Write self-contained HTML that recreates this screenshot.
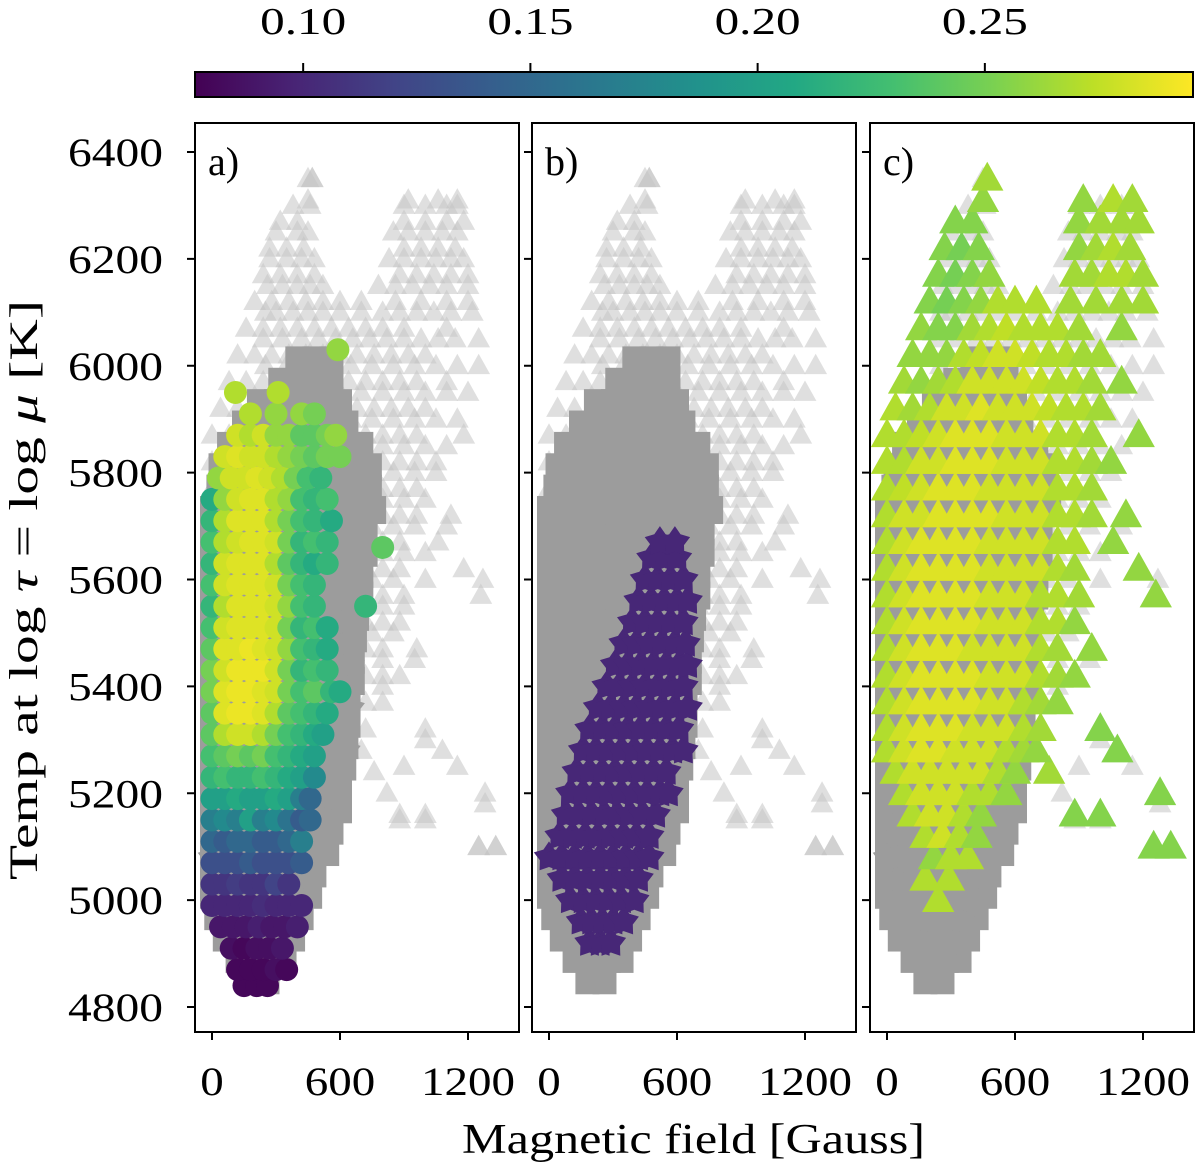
<!DOCTYPE html>
<html><head><meta charset="utf-8"><style>
html,body{margin:0;padding:0;background:#fff}
svg{display:block;font-family:"Liberation Serif",serif}
</style></head><body>
<svg id="chart" width="1200" height="1172" viewBox="0 0 1200 1172" xmlns="http://www.w3.org/2000/svg">
<defs>
<linearGradient id="vir" x1="0" x2="1" y1="0" y2="0">
<stop offset="0" stop-color="#440154"/><stop offset="0.1" stop-color="#482475"/><stop offset="0.2" stop-color="#414487"/><stop offset="0.3" stop-color="#355f8d"/><stop offset="0.4" stop-color="#2a788e"/><stop offset="0.5" stop-color="#21918c"/><stop offset="0.6" stop-color="#22a884"/><stop offset="0.7" stop-color="#44bf70"/><stop offset="0.8" stop-color="#7ad151"/><stop offset="0.9" stop-color="#bddf26"/><stop offset="1" stop-color="#fde725"/>
</linearGradient>
<clipPath id="clipA"><rect x="195" y="123" width="324" height="909"/></clipPath>
<clipPath id="clipB"><rect x="532" y="123" width="325" height="909"/></clipPath>
<clipPath id="clipC"><rect x="870" y="123" width="324" height="909"/></clipPath>
</defs>
<g id="cbar"></g>
<g id="panels"></g>
<text x="462" y="1153" font-size="42" textLength="463" lengthAdjust="spacingAndGlyphs">Magnetic field [Gauss]</text>
<text transform="translate(37,880) rotate(-90)" font-size="40" textLength="580" lengthAdjust="spacingAndGlyphs">Temp at log <tspan font-style="italic">τ</tspan> = log <tspan font-style="italic">μ</tspan> [K]</text>
</svg>
<script>
// ---- data ----
const cbarTicks = [0.10, 0.15, 0.20, 0.25];
const cbarTickLabels = ["0.10", "0.15", "0.20", "0.25"];
const yTicks = [4800, 5000, 5200, 5400, 5600, 5800, 6000, 6200, 6400];
const xTicks = [0, 600, 1200];
const panelLabels = ["a)", "b)", "c)"];

const triGrayRows = [
 [6350,[450,470]],[6300,[380,460,900,1000,1100,1150]],[6250,[300,400,450,850,920,1000,1080,1150]],
 [6200,[270,350,420,480,830,900,980,1050,1120,1180]],[6150,[260,330,400,460,520,780,860,940,1020,1100,1200]],
 [6100,[250,300,380,450,520,600,700,800,880,960,1040,1120,1220]],[6050,[240,330,420,500,580,660,740,820,900,980,1060,1140,1250]],
 [6000,[250,350,450,550,650,750,850,950,1050,1150,1250]],[5950,[300,400,500,600,700,800,900,1000,1100,1200]],
 [5900,[350,450,550,650,750,850,950,1050,1150]],[5850,[400,500,600,700,800,900,1000,1100]],
 [5800,[450,550,650,750,850,950,1050]],[5750,[500,600,700,800,900,1000]],[5700,[550,650,750,850,950,1100]],
 [5650,[600,700,800,900,1000]],[5600,[650,750,850,1000,1270]],[5550,[700,800,900]],[5500,[750,850]],
 [5450,[800,950]],[5400,[800]],[5300,[1000]],[5250,[900,1150]],[5200,[820]],[5180,[1280]],
 [5150,[1000,880]],[5100,[1250,1330]]
];
const sqGrayRows = [
 [4850,[180,260]],[4890,[120,200,280,340]],[4930,[60,140,220,300,380]],[4970,[20,100,180,260,340,420]],
 [5010,[0,80,160,240,320,400,460]],[5050,[0,80,160,240,320,400,480]],[5090,[0,80,160,240,320,400,480,540]],
 [5130,[0,80,160,240,320,400,480,560]],[5170,[0,80,160,240,320,400,480,560,600]],[5210,[0,80,160,240,320,400,480,560,600]],
 [5250,[0,80,160,240,320,400,480,560,620]],[5290,[0,80,160,240,320,400,480,560,630]],[5330,[0,80,160,240,320,400,480,560,640]],
 [5370,[0,80,160,240,320,400,480,560,640]],[5410,[0,80,160,240,320,400,480,560,640,660]],[5450,[0,80,160,240,320,400,480,560,640,660]],
 [5490,[0,80,160,240,320,400,480,560,640,670]],[5530,[0,80,160,240,320,400,480,560,640,680]],[5570,[0,80,160,240,320,400,480,560,640,700]],
 [5610,[0,80,160,240,320,400,480,560,640,700]],[5650,[0,80,160,240,320,400,480,560,640,720]],[5690,[0,80,160,240,320,400,480,560,640,720]],
 [5730,[0,80,160,240,320,400,480,560,640,720,760]],[5770,[30,110,190,270,350,430,510,590,670,740]],
 [5810,[40,120,200,280,360,440,520,600,680,740]],[5850,[80,160,240,320,400,480,560,640,700]],
 [5890,[150,230,310,390,470,550,630]],[5930,[220,300,380,460,540,600]],[5970,[320,400,480,560]],[6010,[400,480,560]]
];
const starRows = [
 [4920,[190,240,290],0.10],[4960,[150,200,250,300,350],0.10],[5000,[100,160,220,280,340,400],0.10],
 [5040,[60,120,180,240,300,360,420],0.10],[5080,[0,60,120,180,240,300,360,420,470],0.10],
 [5120,[50,110,170,230,290,350,410,470],0.10],[5160,[80,140,200,260,320,380,440,500],0.10],
 [5200,[100,160,220,280,340,400,460,520,560],0.10],[5240,[130,190,250,310,370,430,490,550],0.10],
 [5280,[160,220,280,340,400,460,520,580,630],0.10],[5320,[190,250,310,370,430,490,550,610],0.10],
 [5360,[230,290,350,410,470,530,590,650],0.10],[5400,[270,330,390,450,510,570,630],0.10],
 [5440,[310,370,430,490,550,610,650],0.10],[5480,[350,410,470,530,590,640],0.10],
 [5520,[390,450,510,570,630],0.10],[5560,[420,480,540,600,650],0.10],[5600,[450,510,570,630],0.10],
 [5640,[480,540,600],0.10],[5670,[520,590],0.10]
];
const circleRows = [
 [4840,[150,210,260],[.08,.08,.08]],
 [4870,[120,180,240,300,350],[.08,.08,.08,.085,.08]],
 [4910,[90,150,210,270,330],[.085,.08,.085,.085,.09]],
 [4950,[40,100,160,220,280,340,400],[.09,.09,.09,.095,.09,.09,.095]],
 [4990,[0,60,120,180,240,300,360,420],[.1,.1,.1,.1,.105,.1,.1,.1]],
 [5030,[0,60,120,180,240,300,360],[.11,.11,.115,.11,.11,.12,.11]],
 [5070,[0,60,120,180,240,300,360,420],[.13,.13,.13,.14,.13,.13,.13,.14]],
 [5110,[0,60,120,180,240,300,360,420],[.15,.14,.15,.15,.14,.14,.15,.17]],
 [5150,[0,60,120,180,240,300,360,420,460],[.17,.18,.17,.2,.17,.18,.16,.14,.15]],
 [5190,[0,60,120,180,240,300,360,420,460],[.2,.2,.21,.2,.2,.21,.2,.17,.15]],
 [5230,[0,60,120,180,240,300,360,420,480],[.22,.23,.22,.22,.23,.22,.21,.2,.18]],
 [5270,[0,60,120,180,240,300,360,420,480],[.23,.24,.25,.24,.25,.23,.22,.21,.2]],
 [5310,[0,60,120,180,240,300,360,420,480,520],[.24,.27,.28,.28,.27,.25,.23,.22,.21,.2]],
 [5350,[0,60,120,180,240,300,360,420,480,540],[.24,.285,.29,.29,.285,.27,.24,.23,.22,.21]],
 [5390,[0,60,120,180,240,300,360,420,480,560,600],[.25,.285,.29,.29,.285,.28,.25,.23,.24,.22,.21]],
 [5430,[0,60,120,180,240,300,360,420,480,540],[.25,.28,.29,.29,.29,.28,.25,.22,.23,.22]],
 [5470,[0,60,120,180,240,300,360,420,480,540],[.24,.285,.285,.29,.285,.28,.26,.23,.22,.21]],
 [5510,[0,60,120,180,240,300,360,420,480,540],[.23,.28,.285,.285,.285,.28,.25,.22,.23,.21]],
 [5550,[0,60,120,180,240,300,360,420,480,720],[.22,.27,.285,.285,.285,.28,.26,.23,.22,.22]],
 [5590,[0,60,120,180,240,300,360,420,480],[.23,.28,.285,.285,.285,.28,.25,.23,.22]],
 [5630,[0,60,120,180,240,300,360,420,480,540],[.22,.28,.285,.285,.285,.27,.24,.22,.21,.22]],
 [5660,[800],[.24]],
 [5670,[0,60,120,180,240,300,360,420,480,540],[.23,.27,.28,.285,.285,.28,.25,.22,.23,.22]],
 [5710,[0,60,120,180,240,300,360,420,480,560],[.22,.27,.285,.285,.285,.27,.25,.23,.22,.21]],
 [5750,[0,60,120,180,240,300,360,420,480,540],[.21,.26,.28,.285,.285,.27,.26,.23,.22,.23]],
 [5790,[30,90,150,210,270,330,390,450,510],[.26,.28,.28,.285,.28,.27,.25,.23,.22]],
 [5830,[60,120,180,240,300,360,420,480,540,600],[.28,.285,.28,.28,.27,.26,.25,.24,.25,.25]],
 [5870,[120,180,240,300,360,420,480,540,580],[.28,.27,.28,.26,.26,.24,.24,.25,.26]],
 [5910,[180,300,420,480],[.27,.26,.26,.25]],
 [5950,[110,310],[.27,.27]],
 [6030,[590],[.26]]
];
const triRows = [
 [5000,[240],[.27]],[5040,[180,290],[.27,.27]],[5080,[220,300,380],[.26,.27,.27]],
 [5100,[1250,1330],[.255,.255]],
 [5120,[180,260,340,420],[.27,.28,.27,.26]],
 [5160,[120,200,280,360,440,1000,880],[.27,.28,.28,.27,.26,.255,.255]],
 [5200,[80,160,240,320,400,480,560,1280],[.27,.28,.28,.28,.27,.27,.26,.255]],
 [5240,[40,120,200,280,360,440,520,600,760],[.27,.28,.28,.28,.28,.28,.27,.26,.265]],
 [5280,[0,80,160,240,320,400,480,560,640,700,1080],[.27,.28,.285,.285,.28,.28,.28,.27,.265,.26,.255]],
 [5320,[0,80,160,240,320,400,480,560,640,720,1000],[.27,.28,.285,.285,.285,.28,.28,.28,.27,.265,.255]],
 [5370,[0,80,160,240,320,400,480,560,640,720,800],[.27,.28,.285,.285,.285,.285,.28,.28,.27,.265,.26]],
 [5420,[0,80,160,240,320,400,480,560,640,720,800,880],[.27,.28,.285,.285,.285,.285,.28,.28,.28,.27,.265,.26]],
 [5470,[0,80,160,240,320,400,480,560,640,720,800,960],[.27,.28,.285,.285,.285,.28,.28,.28,.28,.27,.265,.26]],
 [5520,[0,80,160,240,320,400,480,560,640,720,800,880],[.27,.28,.285,.285,.285,.285,.28,.28,.28,.27,.27,.26]],
 [5570,[0,80,160,240,320,400,480,560,640,720,800,900,1260],[.27,.28,.285,.285,.285,.285,.28,.28,.28,.27,.27,.265,.26]],
 [5620,[0,80,160,240,320,400,480,560,640,720,800,880,1180],[.27,.28,.285,.285,.285,.285,.28,.28,.28,.28,.27,.265,.26]],
 [5670,[0,80,160,240,320,400,480,560,640,720,800,880,1060],[.27,.28,.285,.285,.285,.285,.28,.28,.28,.28,.27,.27,.26]],
 [5720,[0,80,160,240,320,400,480,560,640,720,800,880,960,1120],[.27,.28,.28,.285,.285,.285,.285,.28,.28,.28,.27,.27,.265,.26]],
 [5770,[0,80,160,240,320,400,480,560,640,720,800,880,960],[.27,.275,.28,.285,.285,.285,.28,.28,.28,.28,.27,.27,.265]],
 [5820,[0,80,160,240,320,400,480,560,640,720,800,880,960,1050],[.27,.27,.28,.28,.285,.285,.285,.28,.28,.28,.27,.27,.265,.26]],
 [5870,[0,80,160,240,320,400,480,560,640,720,800,880,960,1180],[.27,.27,.275,.28,.285,.285,.285,.28,.28,.28,.27,.27,.265,.26]],
 [5920,[40,120,200,280,360,440,520,600,680,760,840,920,1000],[.27,.265,.27,.28,.28,.285,.28,.28,.28,.275,.27,.27,.265]],
 [5970,[80,160,240,320,400,480,560,640,720,800,880,960,1100],[.265,.26,.265,.27,.28,.28,.28,.28,.275,.27,.27,.265,.26]],
 [6020,[120,200,280,360,440,520,600,680,760,840,920,1000],[.26,.26,.26,.27,.275,.28,.28,.275,.27,.27,.265,.265]],
 [6070,[160,240,320,400,480,560,640,720,800,900,1100],[.26,.255,.255,.265,.27,.275,.27,.27,.27,.265,.26]],
 [6120,[200,280,360,440,520,600,700,860,980,1100,1200],[.255,.25,.255,.26,.27,.27,.27,.265,.265,.265,.265]],
 [6170,[240,320,400,480,880,960,1040,1120,1200],[.255,.25,.255,.26,.265,.265,.27,.27,.265]],
 [6220,[270,350,430,900,980,1060,1140],[.255,.25,.255,.26,.265,.27,.265]],
 [6270,[320,400,900,1000,1100,1180],[.255,.255,.26,.265,.265,.265]],
 [6310,[450,920,1060,1150],[.26,.26,.27,.265]],
 [6350,[470],[.265]]
];

// ---- scales ----
const NS = "http://www.w3.org/2000/svg";
const cbX0 = 195, cbX1 = 1193, vMin = 0.0762, vMax = 0.2958;
const panelX = [195, 532, 870], panelW = 324, panelTop = 123, panelBot = 1032;
function yScale(T){ return 152 + (6400 - T) * 0.534375; }
function xScale(p, B){ return panelX[p] + 17 + B * 0.21333; }
function cbScale(v){ return cbX0 + (v - vMin) / (vMax - vMin) * (cbX1 - cbX0); }
const vir = ["#440154","#482475","#414487","#355f8d","#2a788e","#21918c","#22a884","#44bf70","#7ad151","#bddf26","#fde725"];
function hx(h){ return [1,3,5].map(i=>parseInt(h.substr(i,2),16)); }
function viridis(v){
  let t = Math.max(0, Math.min(1, (v - vMin) / (vMax - vMin))) * 10;
  let i = Math.min(9, Math.floor(t)), f = t - i;
  const a = hx(vir[i]), b = hx(vir[i+1]);
  return "rgb(" + a.map((c,k)=>Math.round(c + (b[k]-c)*f)).join(",") + ")";
}
function mk(tag, attrs, parent){
  const e = document.createElementNS(NS, tag);
  for (const k in attrs) e.setAttribute(k, attrs[k]);
  parent.appendChild(e); return e;
}
function triPath(x,y,r){ return `M${x},${y-r}L${x+r*0.95},${y+r*0.7}L${x-r*0.95},${y+r*0.7}Z`; }
function starPath(x,y,r){
  let d=""; for(let i=0;i<10;i++){ const a=-Math.PI/2+i*Math.PI/5, rr=i%2?r*0.6:r; d+=(i?"L":"M")+(x+rr*Math.cos(a)).toFixed(1)+","+(y+rr*Math.sin(a)).toFixed(1);} return d+"Z";
}

// ---- colorbar ----
const cb = document.getElementById("cbar");
const cbRect = mk("rect", {x:cbX0, y:72, width:cbX1-cbX0, height:25, fill:"url(#vir)", stroke:"#000", "stroke-width":2}, cb);


cbarTicks.forEach((v,i)=>{
  const x = cbScale(v);
  const tk = mk("line", {x1:x, x2:x, y1:63, y2:72, stroke:"#000", "stroke-width":2}, cb);
  
  
  const tl = mk("text", {x:x, y:34, "font-size":38, "text-anchor":"middle", textLength:86, lengthAdjust:"spacingAndGlyphs"}, cb);
  tl.textContent = cbarTickLabels[i];
  
  
});

// ---- panels ----
const panels = document.getElementById("panels");
const colored = ["circles","stars","triangles"];
for (let p=0; p<3; p++){
  const g = mk("g", {}, panels);
  
  
  const pts = mk("g", {"clip-path":"url(#clip"+"ABC"[p]+")"}, g);
  
  
  const gTri = mk("g", {fill:"#c4c4c4", "fill-opacity":0.55}, pts);
  
  
  triGrayRows.forEach(r=>r[1].forEach(B=>{
    const m = mk("path", {d:triPath(xScale(p,B), yScale(r[0]), 12)}, gTri);
    
    
  }));
  triRows.forEach(r=>r[1].forEach(B=>{
    if (p===2) return;
    const m = mk("path", {d:triPath(xScale(p,B), yScale(r[0]), 12)}, gTri);
    
    
  }));
  const gSq = mk("g", {fill:"#9c9c9c"}, pts);
  
  
  sqGrayRows.forEach(r=>r[1].forEach(B=>{
    const x = xScale(p,B), y = yScale(r[0]);
    const m = mk("rect", {x:x-12, y:y-14, width:24, height:28}, gSq);
    
    
  }));
  if (p!==1){
    const gSt = mk("g", {fill:"#9c9c9c"}, pts);
    
    
    starRows.forEach(r=>r[1].forEach(B=>{
      const m = mk("path", {d:starPath(xScale(p,B), yScale(r[0]), 15)}, gSt);
      
      
    }));
  }
  const gc = mk("g", {}, pts);
  
  
  if (p===0){
    circleRows.forEach(r=>r[1].forEach((B,i)=>{
      const m = mk("circle", {cx:xScale(0,B), cy:yScale(r[0]), r:11.5, fill:viridis(r[2][i])}, gc);
      
      
    }));
  } else if (p===1){
    starRows.forEach(r=>r[1].forEach(B=>{
      const m = mk("path", {d:starPath(xScale(1,B), yScale(r[0]), 16), fill:viridis(r[2])}, gc);
      
      
    }));
  } else {
    triRows.forEach(r=>r[1].forEach((B,i)=>{
      const m = mk("path", {d:triPath(xScale(2,B), yScale(r[0]), 17), fill:viridis(r[2][i])}, gc);
      
      
    }));
  }
  const fr = mk("rect", {x:panelX[p], y:panelTop, width:panelW, height:panelBot-panelTop, fill:"none", stroke:"#000", "stroke-width":2}, g);
  
  
  const lab = mk("text", {x:panelX[p]+13, y:175, "font-size":40}, g);
  lab.textContent = panelLabels[p];
  
  
  yTicks.forEach(T=>{
    const y = yScale(T);
    const t = mk("line", {x1:panelX[p]-8, x2:panelX[p], y1:y, y2:y, stroke:"#000", "stroke-width":2}, g);
    
    
    if (p===0){
      const tl = mk("text", {x:163, y:y+14, "font-size":40, "text-anchor":"end", textLength:95, lengthAdjust:"spacingAndGlyphs"}, g);
      tl.textContent = T;
      
      
    }
  });
  xTicks.forEach(B=>{
    const x = xScale(p,B);
    const t = mk("line", {x1:x, x2:x, y1:panelBot, y2:panelBot+8, stroke:"#000", "stroke-width":2}, g);
    
    
    const s = String(B);
    const tl = mk("text", {x:x, y:1095, "font-size":40, "text-anchor":"middle", textLength:s.length*23.5, lengthAdjust:"spacingAndGlyphs"}, g);
    tl.textContent = s;
    
    
  });
}
</script>
</body></html>
